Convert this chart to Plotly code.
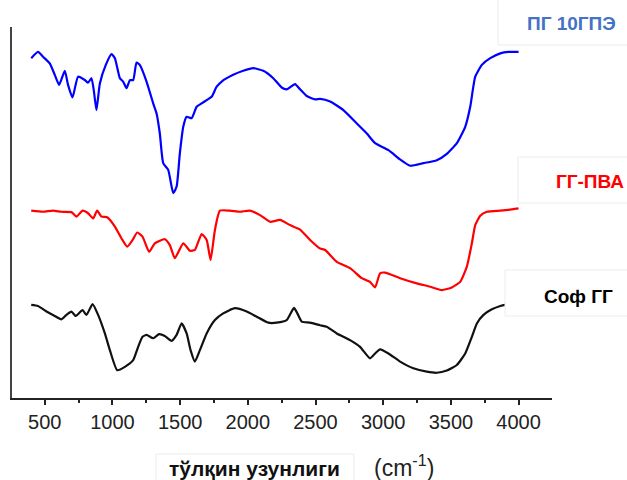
import plotly.graph_objects as go

# FTIR spectra: wavenumber (cm-1) and transmittance (arbitrary, offset)
wn_blue = [400, 450, 487, 537, 574, 606, 648, 672, 705, 746, 796, 820, 845, 862, 882, 907, 951, 993,
           1018, 1055, 1079, 1104, 1129, 1153, 1178, 1202, 1252, 1301, 1326, 1350, 1375, 1412, 1449,
           1474, 1498, 1523, 1548, 1585, 1622, 1659, 1696, 1733, 1770, 1807, 1892, 1966, 2040, 2114,
           2188, 2250, 2287, 2349, 2386, 2435, 2497, 2534, 2608, 2706, 2805, 2879, 2940, 3039, 3125,
           3199, 3297, 3396, 3470, 3544, 3606, 3643, 3680, 3729, 3791, 3865, 3926, 4000]
t_blue = [91.6, 93.3, 92.0, 90.2, 87.1, 84.4, 88.2, 84.4, 81.0, 86.6, 85.7, 85.0, 86.2, 83.0, 77.6, 84.8,
          89.8, 92.7, 91.6, 86.2, 85.3, 83.5, 85.7, 85.7, 90.4, 89.8, 85.3, 79.4, 76.7, 71.3, 63.3, 61.5,
          55.2, 57.0, 66.0, 73.1, 75.8, 75.4, 78.5, 79.4, 80.3, 81.2, 83.9, 85.3, 87.1, 88.2, 88.9, 88.2,
          86.2, 83.7, 83.2, 84.6, 83.2, 81.4, 80.5, 80.6, 79.9, 77.6, 74.0, 71.3, 68.7, 66.8, 64.3,
          62.6, 63.3, 64.1, 65.8, 68.7, 73.1, 78.5, 86.6, 89.8, 91.6, 92.9, 93.3, 93.3]

wn_red = [400, 487, 561, 623, 697, 734, 779, 820, 857, 887, 919, 961, 1018, 1067, 1109, 1149, 1183,
          1222, 1271, 1313, 1387, 1424, 1461, 1523, 1572, 1609, 1659, 1696, 1725, 1757, 1794, 1868,
          1942, 2016, 2090, 2164, 2238, 2312, 2386, 2460, 2534, 2571, 2657, 2755, 2842, 2903, 2940,
          2977, 3014, 3125, 3248, 3347, 3433, 3507, 3569, 3618, 3655, 3680, 3717, 3766, 3865, 3926, 4000]
t_red = [50.5, 50.2, 50.5, 50.2, 50.1, 48.9, 50.5, 49.8, 48.4, 50.5, 48.9, 48.7, 46.2, 43.0, 40.8, 42.6,
         44.6, 43.5, 39.4, 41.7, 42.8, 41.2, 37.7, 41.7, 39.7, 39.9, 44.2, 42.6, 37.2, 45.3, 50.5, 50.5,
         50.2, 50.5, 49.3, 47.5, 48.0, 46.6, 45.4, 42.6, 40.3, 39.9, 36.7, 35.0, 32.3, 31.3, 29.8,
         33.6, 33.8, 32.3, 30.9, 30.0, 29.1, 29.8, 31.3, 35.4, 41.7, 46.6, 49.1, 50.2, 50.5, 50.7, 51.1]

wn_black = [400, 450, 513, 574, 623, 660, 697, 729, 779, 808, 853, 894, 944, 981, 1035, 1092, 1153,
            1190, 1222, 1252, 1301, 1345, 1387, 1437, 1474, 1511, 1548, 1577, 1609, 1646, 1696, 1757,
            1818, 1905, 1992, 2066, 2151, 2213, 2287, 2341, 2366, 2398, 2460, 2534, 2583, 2657, 2755,
            2829, 2903, 2940, 2977, 3039, 3125, 3223, 3322, 3396, 3470, 3544, 3606, 3655, 3692, 3741,
            3803, 3865, 3902, 3950, 4000]
t_black = [25.1, 24.8, 23.3, 22.1, 21.2, 22.4, 23.3, 22.1, 23.7, 22.4, 25.3, 22.4, 17.4, 12.9, 7.5, 8.4,
           10.2, 13.8, 16.5, 17.0, 16.1, 17.2, 16.7, 15.4, 17.0, 20.1, 17.4, 12.9, 9.8, 12.9, 17.4, 21.0,
           22.8, 24.2, 23.3, 21.9, 20.3, 20.3, 21.0, 24.3, 22.8, 20.6, 20.3, 19.6, 19.2, 17.4, 15.6,
           13.8, 10.7, 12.0, 13.1, 12.0, 9.8, 8.0, 7.1, 6.8, 7.4, 8.9, 12.0, 16.5, 20.1, 22.4,
           23.9, 24.8, 25.1, 25.3, 25.4]

labels = ["ПГ 10ГПЭ", "ГГ-ПВА", "Соф ГГ"]
label_colors = ["#4472C4", "#FF0000", "#000000"]
tick_vals = [500, 1000, 1500, 2000, 2500, 3000, 3500, 4000]
x_title = "тўлқин узунлиги"
x_unit = "(cm<sup>-1</sup>)"

W, H = 627, 480
L, R, T, B = 12, 75, 27, 82
PW, PH = W - L - R, H - T - B


def px(x):
    return (x - L) / PW


def py(y):
    return (H - B - y) / PH


fig = go.Figure()
for wn, tt, col in [(wn_blue, t_blue, "#0000FF"), (wn_red, t_red, "#FF0000"), (wn_black, t_black, "#111111")]:
    fig.add_trace(go.Scatter(x=wn, y=tt, mode="lines",
                             line=dict(color=col, width=2.2, shape="spline", smoothing=0.5),
                             showlegend=False, hoverinfo="skip"))

# label boxes
boxes = [(498, -5, 650, 45), (518, 157, 650, 203), (505, 270, 650, 316), (156, 454, 354, 490)]
for x0, y0, x1, y1 in boxes:
    fig.add_shape(type="rect", xref="paper", yref="paper", x0=px(x0), x1=px(x1), y0=py(y1), y1=py(y0),
                  fillcolor="white", line=dict(color="#ececec", width=1), layer="above")

label_pos = [(571, 24), (590, 182), (578, 296)]
for lab, col, (lx, ly) in zip(labels, label_colors, label_pos):
    fig.add_annotation(x=px(lx), y=py(ly), xref="paper", yref="paper", text=lab, showarrow=False,
                       xanchor="center", yanchor="middle",
                       font=dict(family="Liberation Sans, Arial", size=19, color=col, weight="bold"))

fig.add_annotation(x=px(254), y=py(468), xref="paper", yref="paper", text=x_title, showarrow=False,
                   xanchor="center", yanchor="middle",
                   font=dict(family="Liberation Sans, Arial", size=21, color="#111111", weight="bold"))
fig.add_annotation(x=px(404), y=py(466), xref="paper", yref="paper", text=x_unit, showarrow=False,
                   xanchor="center", yanchor="middle",
                   font=dict(family="Liberation Sans, Arial", size=23, color="#222222"))

fig.update_layout(
    width=W, height=H, margin=dict(l=L, r=R, t=T, b=B),
    paper_bgcolor="white", plot_bgcolor="white",
    xaxis=dict(range=[258, 4247], tickvals=tick_vals, ticks="outside", ticklen=5, tickwidth=1.5,
               tickcolor="#222", showline=True, linecolor="#222", linewidth=1.5, showgrid=False,
               zeroline=False, tickfont=dict(family="Liberation Sans, Arial", size=20, color="#222"),
               minor=dict(tickvals=[750, 1250, 1750, 2250, 2750, 3250, 3750], ticks="outside",
                          ticklen=3, tickwidth=1.5, tickcolor="#222")),
    yaxis=dict(range=[0, 100], showticklabels=False, ticks="", showline=True, linecolor="#444",
               linewidth=2, showgrid=False, zeroline=False),
)

fig.write_html("out.html")
